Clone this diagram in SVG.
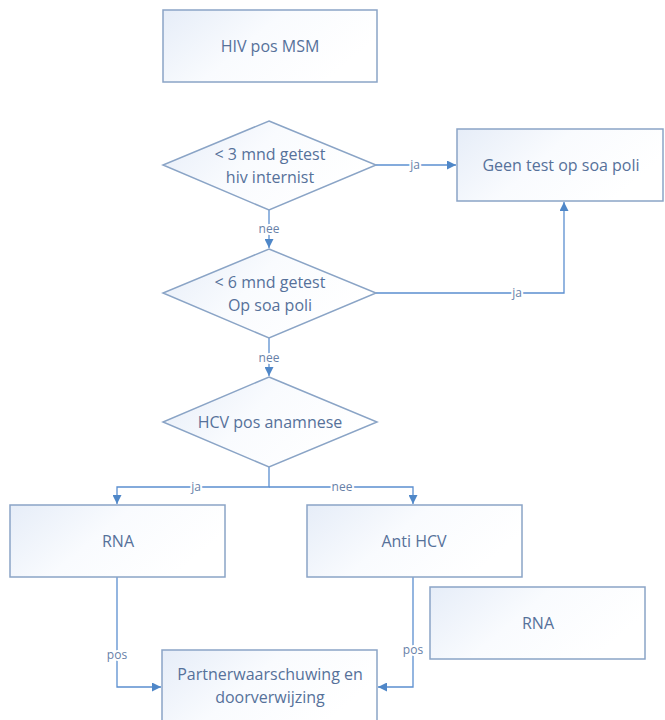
<svg xmlns="http://www.w3.org/2000/svg" width="665" height="720" viewBox="0 0 665 720">
<defs>
<linearGradient id="g" x1="0" y1="0" x2="1" y2="0.4">
<stop offset="0" stop-color="#e6edf8"/>
<stop offset="0.5" stop-color="#f9fbfe"/>
<stop offset="1" stop-color="#ffffff"/>
</linearGradient>
<marker id="a" viewBox="0 0 10 10" refX="10" refY="5" markerWidth="9" markerHeight="9" markerUnits="userSpaceOnUse" orient="auto">
<path d="M0,0 L10,5 L0,10 z" fill="#4f87c8"/>
</marker>
</defs>
<style>
.n{fill:url(#g);stroke:#8aa4c6;stroke-width:1.5}
.t{font-family:"Open Sans","Liberation Sans",sans-serif;font-size:16px;fill:#56719a;text-anchor:middle}
.c{fill:none;stroke:#5b8fd0;stroke-width:1.3}
.l{font-family:"Open Sans","Liberation Sans",sans-serif;font-size:12px;fill:#6781a8;text-anchor:middle;paint-order:stroke;stroke:#ffffff;stroke-width:4px}
</style>
<rect width="665" height="720" fill="#ffffff"/>
<g id="connectors">
<path class="c" d="M376,165 H456" marker-end="url(#a)"/>
<path class="c" d="M269,210 V248" marker-end="url(#a)"/>
<path class="c" d="M376,293 H564 V202" marker-end="url(#a)"/>
<path class="c" d="M269,338 V376" marker-end="url(#a)"/>
<path class="c" d="M269,467 V487 H117 V504" marker-end="url(#a)"/>
<path class="c" d="M269,487 H413 V504" marker-end="url(#a)"/>
<path class="c" d="M117,577 V687 H161" marker-end="url(#a)"/>
<path class="c" d="M413,577 V687 H378" marker-end="url(#a)"/>
<text class="l" x="415" y="169">ja</text>
<text class="l" x="269" y="233">nee</text>
<text class="l" x="517" y="297">ja</text>
<text class="l" x="269" y="362">nee</text>
<text class="l" x="196" y="491">ja</text>
<text class="l" x="342" y="491">nee</text>
<text class="l" x="117" y="659">pos</text>
<text class="l" x="413" y="654">pos</text>
</g>
<g id="hiv">
<rect class="n" x="163" y="10" width="214" height="72"/>
<text class="t" x="270" y="52">HIV pos MSM</text>
</g>
<g id="d1">
<polygon class="n" points="269,121 376,165 269,210 163,165"/>
<text class="t" x="270" y="160">&lt; 3 mnd getest</text>
<text class="t" x="270" y="183">hiv internist</text>
</g>
<g id="geen">
<rect class="n" x="457" y="129" width="206" height="72"/>
<text class="t" x="561" y="171">Geen test op soa poli</text>
</g>
<g id="d2">
<polygon class="n" points="269,249 376,293 269,338 163,293"/>
<text class="t" x="270" y="288">&lt; 6 mnd getest</text>
<text class="t" x="270" y="311">Op soa poli</text>
</g>
<g id="d3">
<polygon class="n" points="269,377 377,422 269,467 163,422"/>
<text class="t" x="270" y="428">HCV pos anamnese</text>
</g>
<g id="rna1">
<rect class="n" x="10" y="505" width="215" height="72"/>
<text class="t" x="118" y="547">RNA</text>
</g>
<g id="anti">
<rect class="n" x="307" y="505" width="215" height="72"/>
<text class="t" x="414" y="547">Anti HCV</text>
</g>
<g id="rna2">
<rect class="n" x="430" y="587" width="215" height="72"/>
<text class="t" x="538" y="629">RNA</text>
</g>
<g id="partner">
<rect class="n" x="162" y="650" width="215" height="74"/>
<text class="t" x="270" y="680">Partnerwaarschuwing en</text>
<text class="t" x="270" y="703">doorverwijzing</text>
</g>
</svg>
